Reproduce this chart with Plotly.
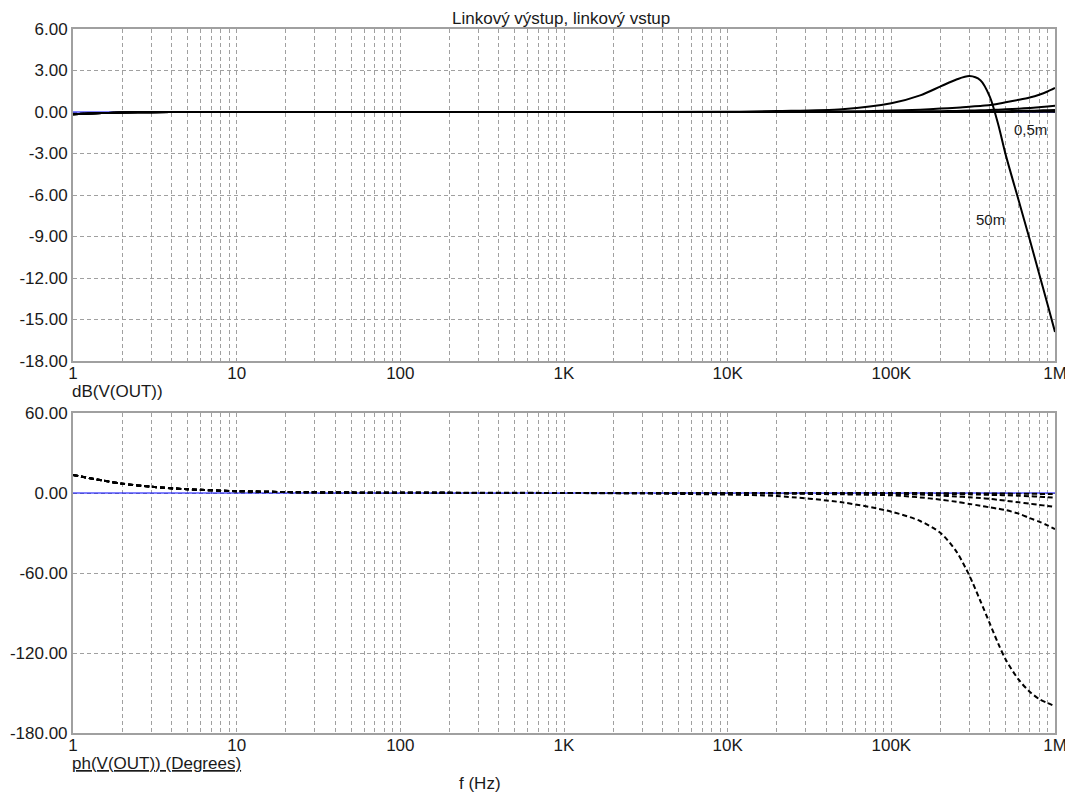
import plotly.graph_objects as go

# ---- data ----
freqs = [1, 1.5, 2, 3, 5, 10, 20, 50, 100, 1000, 10000, 20000, 50000, 100000,
         150000, 200000, 250000, 300000, 350000, 400000, 450000, 500000,
         600000, 700000, 800000, 900000, 1000000]

mag_50m = [-0.17, -0.08, -0.03, -0.01, 0, 0, 0, 0, 0, 0, 0.01, 0.07, 0.2, 0.63,
           1.2, 1.85, 2.35, 2.6, 2.3, 1.1, -0.9, -3.1,
           -6.4, -9.2, -11.7, -13.9, -15.9]
mag_20m = [-0.17, -0.08, -0.03, -0.01, 0, 0, 0, 0, 0, 0, 0, 0.01, 0.04, 0.1,
           0.17, 0.25, 0.31, 0.38, 0.44, 0.5, 0.6, 0.7,
           0.88, 1.05, 1.25, 1.48, 1.74]
mag_10m = [-0.17, -0.08, -0.03, -0.01, 0, 0, 0, 0, 0, 0, 0, 0, 0.01, 0.02,
           0.04, 0.06, 0.08, 0.1, 0.12, 0.15, 0.17, 0.19,
           0.24, 0.29, 0.34, 0.4, 0.45]
mag_5m = [-0.17, -0.08, -0.03, -0.01, 0, 0, 0, 0, 0, 0, 0, 0, 0, 0.005,
          0.01, 0.015, 0.02, 0.03, 0.035, 0.045, 0.05, 0.06,
          0.075, 0.09, 0.11, 0.13, 0.15]
mag_05m = [-0.17, -0.08, -0.03, -0.01, 0, 0, 0, 0, 0, 0, 0, 0, 0, 0,
           0, 0, 0, 0, 0, 0.005, 0.005, 0.005,
           0.01, 0.01, 0.015, 0.015, 0.02]

ph_50m = [13.5, 9.5, 7.0, 4.7, 2.8, 1.4, 0.7, 0.3, 0.15, 0.02, -1.2, -2.3, -7, -14,
          -21, -30, -44, -62, -81, -98, -113, -125,
          -140, -149, -154.5, -157.5, -160]
ph_20m = [13.5, 9.5, 7.0, 4.7, 2.8, 1.4, 0.7, 0.3, 0.15, 0.02, -0.2, -0.4, -1.0, -1.7,
          -3.3, -5, -6.6, -8.2, -9.5, -10.8, -11.8, -12.8,
          -15.5, -18.8, -21.5, -24.3, -27]
ph_10m = [13.5, 9.5, 7.0, 4.7, 2.8, 1.4, 0.7, 0.3, 0.15, 0.02, -0.05, -0.1, -0.3, -0.6,
          -1.2, -1.9, -2.6, -3.2, -3.8, -4.4, -5.1, -5.8,
          -7, -8, -8.9, -9.7, -10.5]
ph_5m = [13.5, 9.5, 7.0, 4.7, 2.8, 1.4, 0.7, 0.3, 0.15, 0.02, 0, -0.03, -0.1, -0.2,
         -0.4, -0.6, -0.8, -1.0, -1.2, -1.4, -1.55, -1.7,
         -2.05, -2.4, -2.75, -3.1, -3.4]
ph_05m = [13.5, 9.5, 7.0, 4.7, 2.8, 1.4, 0.7, 0.3, 0.15, 0.02, 0, 0, -0.03, -0.05,
          -0.1, -0.15, -0.2, -0.25, -0.3, -0.35, -0.4, -0.45,
          -0.5, -0.6, -0.65, -0.72, -0.8]

ref_x = [1, 1000000]
ref_y = [0, 0]

decade_labels = ["1", "10", "100", "1K", "10K", "100K", "1M"]
mag_ticks = [6, 3, 0, -3, -6, -9, -12, -15, -18]
ph_ticks = [60, 0, -60, -120, -180]

# ---- figure ----
FONT = "Arial, Liberation Sans, sans-serif"
FS = 17
fig = go.Figure()

fig.add_trace(go.Scatter(x=ref_x, y=ref_y, mode="lines",
                         line=dict(color="#0000ff", width=1), xaxis="x", yaxis="y"))
fig.add_trace(go.Scatter(x=ref_x, y=ref_y, mode="lines",
                         line=dict(color="#0000ff", width=1), xaxis="x2", yaxis="y2"))

for m in [mag_05m, mag_5m, mag_10m, mag_20m, mag_50m]:
    fig.add_trace(go.Scatter(x=freqs, y=m, mode="lines",
                             line=dict(color="black", width=2, shape="spline", smoothing=0.8),
                             xaxis="x", yaxis="y"))
for p in [ph_05m, ph_5m, ph_10m, ph_20m, ph_50m]:
    fig.add_trace(go.Scatter(x=freqs, y=p, mode="lines",
                             line=dict(color="black", width=2, dash="5px,3px",
                                       shape="spline", smoothing=0.8),
                             xaxis="x2", yaxis="y2"))

gridvals = []
gridtext = []
for d in range(6):
    for k in range(1, 10):
        gridvals.append(k * 10 ** d)
        gridtext.append(decade_labels[d] if k == 1 else "")
gridvals.append(10 ** 6)
gridtext.append(decade_labels[6])

xcommon = dict(type="log", range=[0, 6], tickmode="array", tickvals=gridvals,
               ticktext=gridtext, showgrid=True, gridcolor="#a0a0a0", griddash="4px,3px",
               gridwidth=1, showline=True, linecolor="#a0a0a0", linewidth=2, mirror=True,
               ticks="", tickfont=dict(family=FONT, size=FS, color="#1a1a1a"),
               zeroline=False, ticklabelstandoff=-4, automargin=False)
ycommon = dict(showgrid=True, gridcolor="#a0a0a0", griddash="4px,3px", gridwidth=1,
               showline=True, linecolor="#a0a0a0", linewidth=2, mirror=True, ticks="",
               tickfont=dict(family=FONT, size=FS, color="#1a1a1a"), zeroline=False,
               tickmode="array", automargin=False)

# page body adds an 8px offset; compensate
OFF = 8
H = 794
top, bot = 29 - OFF, 61 + OFF
ph = H - top - bot
L, R = 73 - OFF, 18 + OFF
pw = 1073 - L - R

def px(xpix):
    return (xpix - 73) / pw

def py(ypix):
    return (733 - ypix) / ph

fig.update_layout(
    width=1073, height=794,
    margin=dict(l=L, r=R, t=top, b=bot),
    paper_bgcolor="white", plot_bgcolor="white",
    showlegend=False,
    xaxis=dict(**xcommon, anchor="y"),
    xaxis2=dict(**xcommon, anchor="y2"),
    yaxis=dict(**ycommon, range=[-18, 6], tickvals=mag_ticks,
               ticktext=["%.2f" % v for v in mag_ticks],
               domain=[py(361), 1]),
    yaxis2=dict(**ycommon, range=[-180, 60], tickvals=ph_ticks,
                ticktext=["%.2f" % v for v in ph_ticks],
                domain=[0, py(413)]),
)

ann_font = dict(family=FONT, size=FS, color="#1a1a1a")
fig.add_annotation(text="Linkový výstup, linkový vstup", xref="paper", yref="paper",
                   x=px(561), y=py(18), showarrow=False,
                   xanchor="center", yanchor="middle", font=ann_font)
fig.add_annotation(text="dB(V(OUT))", xref="paper", yref="paper",
                   x=px(70), y=py(391), showarrow=False,
                   xanchor="left", yanchor="middle", font=ann_font)
fig.add_annotation(text="<u>ph(V(OUT)) (Degrees)</u>", xref="paper", yref="paper",
                   x=px(70), y=py(763), showarrow=False,
                   xanchor="left", yanchor="middle", font=ann_font)
fig.add_annotation(text="f (Hz)", xref="paper", yref="paper",
                   x=px(480), y=py(783), showarrow=False,
                   xanchor="center", yanchor="middle", font=ann_font)
fig.add_annotation(text="0,5m", xref="x", yref="y", x=5.852, y=-1.3, showarrow=False,
                   font=dict(family=FONT, size=15, color="#1a1a1a"))
fig.add_annotation(text="50m", xref="x", yref="y", x=5.603, y=-7.74, showarrow=False,
                   font=dict(family=FONT, size=15, color="#1a1a1a"))

fig.write_html("out.html")
